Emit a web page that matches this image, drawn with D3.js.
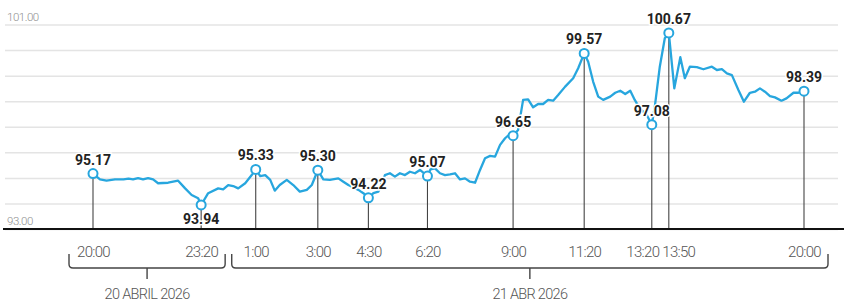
<!DOCTYPE html>
<html lang="es">
<head>
<meta charset="utf-8">
<script src="https://cdn.jsdelivr.net/npm/d3@7"></script>
<style>
  html, body { margin: 0; padding: 0; background: #fff; }
  svg { display: block; font-family: Roboto, "Open Sans", sans-serif; }
</style>
</head>
<body>
<div id="chart"></div>
<script>
// Price series: sample position along the session and price
const positions = [0, 1.4, 2.7, 4.4, 6.1, 7.1, 8.0, 9.0, 10.0, 11.0, 12.0, 13.0, 15.0, 17.0, 18.4, 19.7, 21.0, 21.6, 23.0,
  25.0, 26.0, 27.0, 28.0, 29.0, 30.4, 31.7, 32.5, 33.4, 34.4, 35.4, 36.3, 37.3, 38.7, 40.0, 41.3, 42.7, 43.7, 44.9,
  46.0, 47.3, 49.0, 50.0, 51.0, 53.0, 54.0, 55.0, 56.0, 57.0, 58.3, 59.3, 60.3, 61.3, 62.3, 63.3, 64.3, 65.3, 66.8,
  67.4, 68.3, 69.3, 70.3, 71.3, 72.3, 73.3, 74.3, 75.3, 76.3, 77.3, 78.3, 79.3, 80.3, 81.3, 82.3, 83.3, 83.9, 84.9,
  85.9, 86.9, 87.9, 88.9, 89.9, 90.9, 91.9, 92.9, 94.3, 95.9, 96.9, 98.1, 98.9, 99.9, 100.9, 101.9, 103.3, 104.3,
  105.3, 106.3, 107.3, 108.2, 109.2, 110.6, 111.6, 112.2, 113.2, 114.2, 115.0, 116.1, 117.3, 118.2, 119.2, 120.6,
  121.9, 123.6, 124.6, 125.6, 126.6, 127.6, 128.9, 130.0, 131.2, 132.2, 133.2, 134.2, 135.2, 136.2, 137.5, 138.5,
  139.9, 140.9, 142];
const prices = [95.17, 94.94, 94.89, 94.94, 94.94, 94.97, 94.94, 94.99, 94.94, 94.99, 94.94, 94.79, 94.81, 94.89, 94.59, 94.33, 94.20, 93.94, 94.40,
  94.59, 94.55, 94.72, 94.68, 94.59, 94.79, 95.11, 95.33, 95.07, 95.11, 94.92, 94.50, 94.72, 94.92, 94.72, 94.46, 94.53, 94.72, 95.30,
  94.94, 94.92, 94.98, 94.85, 94.72, 94.53, 94.40, 94.22, 94.40, 94.46, 95.11, 95.18, 95.05, 95.18, 95.11, 95.24, 95.18, 95.31, 95.07,
  95.33, 95.37, 95.18, 95.11, 95.14, 95.18, 94.94, 94.98, 94.85, 94.81, 95.31, 95.77, 95.86, 95.83, 96.29, 96.55, 96.72, 96.65, 96.87,
  98.05, 98.07, 97.76, 97.89, 97.89, 98.05, 98.02, 98.24, 98.57, 98.90, 99.29, 99.87, 99.54, 98.76, 98.18, 98.05, 98.18, 98.33,
  98.41, 98.28, 98.41, 98.05, 97.72, 97.46, 97.08, 97.78, 99.35, 100.46, 100.67, 98.50, 99.72, 98.90, 99.35, 99.33,
  99.25, 99.35, 99.22, 99.25, 99.09, 99.02, 98.44, 97.98, 98.33, 98.37, 98.50, 98.37, 98.20, 98.15, 98.02, 98.11,
  98.33, 98.33, 98.39];

// Highlighted points
const markerPos = [0, 21.6, 32.5, 44.9, 55.0, 66.8, 83.9, 98.1, 111.6, 115.0, 142];
const markerTimes = ['20:00', '23:20', '1:00', '3:00', '4:30', '6:20', '9:00', '11:20', '13:20', '13:50', '20:00'];
const markerLabels = ['95.17', '93.94', '95.33', '95.30', '94.22', '95.07', '96.65', '99.57', '97.08', '100.67', '98.39'];

// Day groups (first and last marker index)
const dayLabels = ['20 ABRIL 2026', '21 ABR 2026'];
const dayRanges = [[0, 1], [2, 10]];

const yTicks = [93, 94, 95, 96, 97, 98, 99, 100, 101];

const width = 844, height = 304;
const blue = '#27a6de';

const svg = d3.select('#chart').append('svg')
  .attr('width', width)
  .attr('height', height);

const x = d3.scaleLinear().domain([0, 142]).range([93, 804]);
const y = d3.scaleLinear().domain([93, 101]).range([229, 24.5]);

// Gridlines with end labels
const yAxis = d3.axisRight(y)
  .tickValues(yTicks)
  .tickSize(833)
  .tickFormat(d => (d === 93 || d === 101) ? d3.format('.2f')(d) : '');
const yG = svg.append('g')
  .attr('transform', 'translate(5,0)')
  .call(yAxis)
  .attr('font-family', null)
  .attr('font-size', null);
yG.select('.domain').remove();
yG.selectAll('.tick line').attr('stroke', '#e4e4e4').attr('stroke-width', 1.5);
yG.selectAll('.tick text')
  .attr('x', 2)
  .attr('dy', -4.5)
  .attr('fill', '#8f8f8f')
  .style('font-size', '11.5px')
  .style('font-weight', 300)
  .style('letter-spacing', '-0.5px');

// Baseline
svg.append('line')
  .attr('x1', 3).attr('x2', width)
  .attr('y1', y(93)).attr('y2', y(93))
  .attr('stroke', '#111')
  .attr('stroke-width', 2);

const series = positions.map((p, i) => [p, prices[i]]);
const valueAt = p => series.find(d => d[0] === p)[1];
const markers = markerPos.map((p, i) => ({ p, v: valueAt(p), label: markerLabels[i], time: markerTimes[i], i }));
const r = 4.5;

// Stems
svg.append('g').selectAll('line')
  .data(markers)
  .join('line')
  .attr('x1', d => x(d.p)).attr('x2', d => x(d.p))
  .attr('y1', d => y(d.v) + r).attr('y2', y(93) - 1)
  .attr('stroke', '#444')
  .attr('stroke-width', 1.1);

// Price line
svg.append('path')
  .datum(series)
  .attr('fill', 'none')
  .attr('stroke', blue)
  .attr('stroke-width', 2.3)
  .attr('stroke-linejoin', 'round')
  .attr('d', d3.line().x(d => x(d[0])).y(d => y(d[1])));

svg.append('g').selectAll('circle')
  .data(markers)
  .join('circle')
  .attr('cx', d => x(d.p))
  .attr('cy', d => y(d.v))
  .attr('r', r)
  .attr('fill', '#fff')
  .attr('stroke', blue)
  .attr('stroke-width', 2);

// Value labels (only the low at 23:20 sits below its point)
const below = new Set([1]);
svg.append('g').selectAll('text')
  .data(markers)
  .join('text')
  .attr('x', d => x(d.p))
  .attr('y', d => below.has(d.i) ? y(d.v) + 19 : y(d.v) - 9)
  .attr('text-anchor', 'middle')
  .attr('fill', '#222')
  .attr('stroke', '#fff')
  .attr('stroke-width', 3)
  .attr('paint-order', 'stroke')
  .style('font-size', '14px')
  .style('font-weight', 700)
  .text(d => d.label);

// Time labels; the two close afternoon ticks are pushed apart
const xAxis = d3.axisBottom(x)
  .tickValues(markerPos)
  .tickSize(0)
  .tickFormat((d, i) => markerTimes[i]);
const xG = svg.append('g')
  .attr('transform', `translate(0,${y(93)})`)
  .call(xAxis)
  .attr('font-family', null)
  .attr('font-size', null);
xG.select('.domain').remove();
xG.selectAll('.tick text')
  .attr('y', 28)
  .attr('dy', 0)
  .attr('fill', '#555')
  .style('font-size', '15px')
  .style('font-weight', 300)
  .style('letter-spacing', '-0.7px')
  .attr('text-anchor', (d, i) => i === 8 ? 'end' : i === 9 ? 'start' : 'middle')
  .attr('x', (d, i) => i === 8 ? 7 : i === 9 ? -7 : 0);

// Day braces
const pad = 24, braceTop = 254, braceBar = 268;
const dayG = svg.append('g').selectAll('g')
  .data(dayRanges.map((rg, i) => ({ x0: x(markerPos[rg[0]]) - pad, x1: x(markerPos[rg[1]]) + pad, label: dayLabels[i] })))
  .join('g');
dayG.append('path')
  .attr('fill', 'none')
  .attr('stroke', '#444')
  .attr('stroke-width', 1.4)
  .attr('d', d => `M${d.x0},${braceTop}V${braceBar - 4}Q${d.x0},${braceBar} ${d.x0 + 4},${braceBar}H${d.x1 - 4}Q${d.x1},${braceBar} ${d.x1},${braceBar - 4}V${braceTop}`);
dayG.append('line')
  .attr('x1', d => (d.x0 + d.x1) / 2).attr('x2', d => (d.x0 + d.x1) / 2)
  .attr('y1', braceBar).attr('y2', braceBar + 11)
  .attr('stroke', '#444')
  .attr('stroke-width', 1.4);
dayG.append('text')
  .attr('x', d => (d.x0 + d.x1) / 2)
  .attr('y', 299)
  .attr('text-anchor', 'middle')
  .attr('fill', '#555')
  .style('font-size', '14.5px')
  .style('font-weight', 300)
  .style('letter-spacing', '-0.7px')
  .text(d => d.label);
</script>
</body>
</html>
